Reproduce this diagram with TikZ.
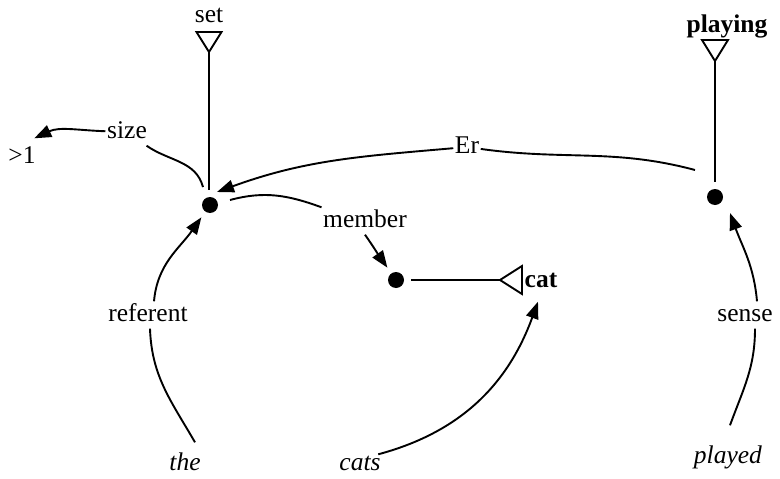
\documentclass[tikz,border=0pt]{standalone}
\usepackage{fontspec}
\setmainfont{Liberation Serif}
\usetikzlibrary{arrows.meta,calc}
\begin{document}
\begin{tikzpicture}[x=1pt,y=1pt,
  lbl/.style={anchor=base,font=\fontsize{25.5}{30}\selectfont,inner sep=1.5pt,text height=18pt,text depth=6pt},
  dot/.style={circle,fill=black,inner sep=0pt,minimum size=16pt,outer sep=7pt},
  link/.style={line width=1.9pt},
  arr/.style={link,-{Triangle[length=17pt,width=12.5pt]}},
  tri/.style={line width=1.9pt,line join=miter}]
\useasboundingbox (0,0) rectangle (780,-479);
% labels
\node[lbl] (set) at (209,-23) {set};
\node[lbl] (playing) at (727,-32) {\textbf{playing}};
\node[lbl] (size) at (127,-138) {size};
\node[lbl] (gt) at (22,-163) {>1};
\node[lbl] (er) at (467,-153) {Er};
\node[lbl] (member) at (365,-227) {member};
\node[lbl] (cat) at (541,-287) {\textbf{cat}};
\node[lbl] (referent) at (148,-321) {referent};
\node[lbl] (sense) at (745,-321) {sense};
\node[lbl] (the) at (185,-470) {\textit{the}};
\node[lbl] (cats) at (360,-470) {\textit{cats}};
\node[lbl] (played) at (728,-463) {\textit{played}};
% dots
\node[dot] (d1) at (210,-205) {};
\node[dot] (d2) at (715,-197) {};
\node[dot] (d3) at (396,-280) {};
% triangles
\draw[tri] (196.5,-32) -- (221.5,-32) -- (209,-52) coordinate (tset) -- cycle;
\draw[tri] (702,-40) -- (728,-40) -- (715,-61) coordinate (tplay) -- cycle;
\draw[tri] (522,-266) -- (522,-294) -- (500,-280) coordinate (tcat) -- cycle;
\draw[link] (tset) -- (tset |- d1.north);
\draw[link] (tplay) -- (d2);
\draw[link] (d3) -- (tcat);
% size
\draw[link] ($(d1)+(-7,18)$) to[out=105,in=-35] (size);
\draw[arr] (size) to[out=178,in=25] ($(gt.north east)+(-3,5)$);
% Er
\draw[link] ($(d2)+(-20,27)$) to[out=165,in=-8] (er);
\draw[arr] (er) to[out=185,in=20] ($(d1)+(7,13)$);
% member
\draw[link] ($(d1)+(20,5)$) to[out=15,in=160] (member.north west);
\draw[arr] (member.south) to[out=-55,in=125] (d3);
% referent
\draw[link] ($(the.north)+(10,8)$) to[out=120,in=-88] ($(referent.south)+(2,0)$);
\draw[arr] ($(referent.north)+(6,0)$) to[out=85,in=235] (d1);
% cats
\draw[arr] ($(cats.north east)+(-4,-4)$) to[out=15,in=-110] ($(cat.south)+(-3,-7)$);
% sense
\draw[link] ($(played.north)+(2,18)$) to[out=70,in=-90] ($(sense.south)+(10,0)$);
\draw[arr] ($(sense.north)+(12,0)$) to[out=95,in=-70] ($(d2)+(15,-16)$);
\end{tikzpicture}
\end{document}
